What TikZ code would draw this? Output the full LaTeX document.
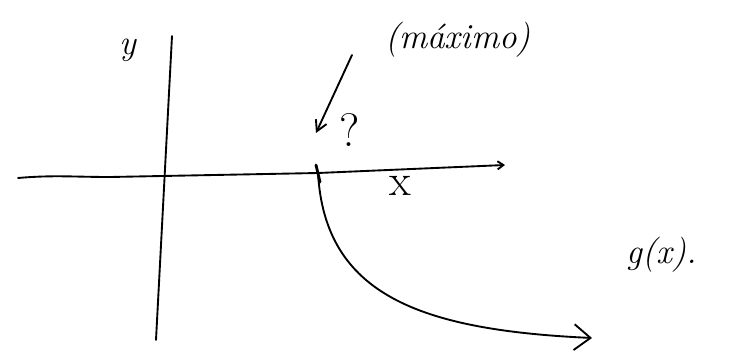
\documentclass[tikz,border=0pt]{standalone}
\usepackage{tikz}
\usetikzlibrary{arrows.meta,positioning}

\begin{document}
\begin{tikzpicture}[x=0.03cm, y=-0.03cm, line width=1.6pt, line cap=round,
  lbl/.style={font=\fontsize{30}{32}\selectfont\itshape, inner sep=1pt}]
\useasboundingbox (0,0) rectangle (748,360);
% axes
\coordinate (xl) at (18,178);
\coordinate (xr) at (505,165);
\coordinate (yt) at (172,36);
\coordinate (yb) at (156,340);
\coordinate (P) at (318,173);
\draw[-{Straight Barb[length=5pt,width=7pt]}] (xl) to[out=5,in=180] (110,177) -- (P) -- (xr);
\draw (yb) -- (yt);
\draw[line width=2.4pt] (316,165) -- (320,182);
\node[lbl] (ylab) at (128,50) {y};
\node[lbl, font=\fontsize{38}{40}\selectfont] (xlab) at (400,186) {x};
% maximum
\node[lbl] (max) at (458,40) {(máximo)};
\coordinate (tail) at (352,55);
\coordinate (tip) at (316,133);
\draw[-{Straight Barb[length=9pt,width=10pt]}] (tail) -- (tip);
\node[lbl, font=\fontsize{40}{42}\selectfont] (q) at (350,130) {?};
% g(x)
\coordinate (gend) at (592,338);
\draw[-{Straight Barb[length=14pt,width=22pt]}] (P) .. controls (325,295) and (420,330) .. (gend);
\node[lbl] (g) at (662,255) {g(x).};
\end{tikzpicture}
\end{document}
